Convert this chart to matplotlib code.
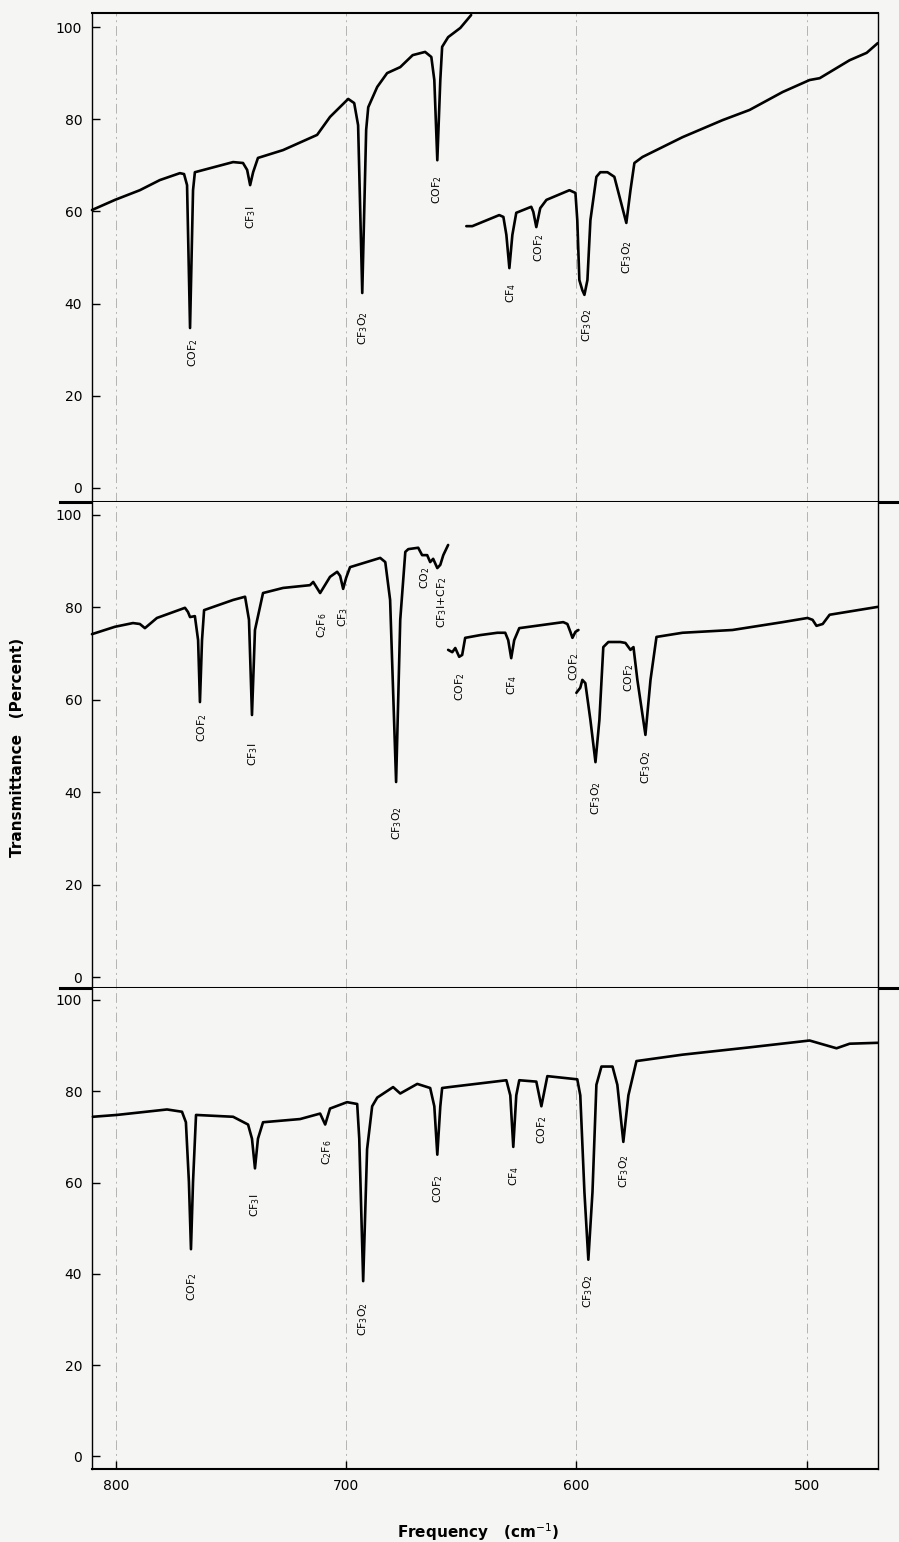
import numpy as np
import matplotlib
matplotlib.use("Agg")
import matplotlib.pyplot as plt

# ---- top spectrum (two pen traces) ----
top_freq_a = [810.4, 800.4, 789.6, 780.9, 772.2, 770.4, 769.1, 767.8, 766.5, 765.7,
              749.1, 744.8, 743.0, 741.7, 740.4, 738.3, 727.4, 712.6, 707.0, 699.1,
              696.5, 694.8, 693.0, 691.3, 690.4, 686.5, 682.2, 676.5, 671.1, 665.7,
              663.0, 661.7, 660.4, 659.1, 658.3, 655.7, 650.4, 645.7]
top_trans_a = [60.3, 62.5, 64.6, 66.8, 68.3, 68.1, 65.7, 34.7, 64.6, 68.5,
               70.7, 70.5, 69.0, 65.7, 68.5, 71.6, 73.3, 76.6, 80.5, 84.4,
               83.5, 78.7, 42.3, 77.7, 82.6, 87.0, 90.0, 91.3, 93.9, 94.6,
               93.5, 88.5, 71.1, 88.5, 95.7, 97.8, 99.8, 102.6]
top_freq_b = [647.8, 645.2, 633.5, 631.7, 630.4, 629.1, 627.8, 626.1, 619.6, 618.7,
              617.4, 615.7, 613.0, 603.0, 600.4, 599.6, 598.7, 597.4, 596.5, 595.2,
              593.9, 591.3, 589.6, 586.5, 583.5, 580.9, 578.3, 576.5, 574.8, 571.3,
              553.9, 536.5, 524.8, 510.4, 498.7, 494.3, 481.3, 473.9, 469.1]
top_trans_b = [56.8, 56.8, 59.2, 58.8, 54.9, 47.7, 54.9, 59.7, 61.0, 59.9,
               56.6, 60.7, 62.5, 64.6, 64.0, 58.1, 45.1, 42.9, 41.9, 45.1,
               58.1, 67.5, 68.5, 68.5, 67.5, 62.5, 57.5, 64.6, 70.5, 71.8,
               76.1, 79.8, 82.0, 85.9, 88.5, 88.9, 92.8, 94.4, 96.5]

# ---- middle spectrum (three pen traces) ----
mid_freq_a = [810.4, 800.4, 792.6, 789.6, 787.4, 782.2, 770.0, 768.7, 767.8, 765.7,
              764.3, 763.5, 762.6, 761.7, 749.1, 743.9, 742.2, 740.9, 739.6, 736.1,
              727.4, 715.7, 714.3, 711.3, 707.0, 703.9, 702.6, 701.3, 700.0, 698.3,
              685.2, 683.0, 680.9, 678.3, 676.5, 674.3, 673.0, 668.7, 667.0, 664.8,
              663.5, 662.2, 660.4, 659.1, 657.8, 655.7]
mid_trans_a = [74.2, 75.8, 76.6, 76.4, 75.5, 77.7, 79.9, 79.0, 77.9, 78.1,
               72.9, 59.5, 72.9, 79.4, 81.6, 82.3, 77.3, 56.7, 75.1, 83.1,
               84.2, 84.8, 85.5, 83.1, 86.6, 87.7, 86.8, 84.0, 86.4, 88.7,
               90.7, 89.8, 81.6, 42.2, 77.3, 92.0, 92.6, 92.9, 91.3, 91.3,
               89.8, 90.5, 88.5, 89.2, 91.3, 93.5]
mid_freq_b = [655.7, 653.9, 652.6, 650.9, 649.6, 648.3, 641.7, 634.3, 630.9, 629.6,
              628.3, 627.0, 624.8, 605.7, 603.9, 602.6, 601.7, 600.4, 599.1]
mid_trans_b = [70.8, 70.3, 71.2, 69.3, 69.7, 73.4, 74.0, 74.5, 74.5, 72.9,
               69.0, 72.9, 75.5, 76.8, 76.4, 74.7, 73.4, 74.7, 75.1]
mid_freq_c = [600.0, 598.3, 597.4, 596.1, 593.9, 591.7, 590.0, 588.3, 586.1, 580.9,
              578.7, 576.5, 575.2, 573.5, 570.0, 567.8, 565.2, 553.9, 532.2, 510.4,
              499.6, 497.4, 495.7, 493.0, 490.0, 469.1]
mid_trans_c = [61.5, 62.6, 64.3, 63.6, 55.6, 46.5, 55.6, 71.4, 72.5, 72.5,
               72.3, 70.8, 71.4, 64.3, 52.4, 64.3, 73.6, 74.5, 75.1, 76.8,
               77.7, 77.3, 76.0, 76.4, 78.4, 80.1]

# ---- bottom spectrum ----
bot_freq = [810.0, 799.6, 777.8, 771.3, 769.6, 768.3, 767.4, 766.5, 765.2, 749.1,
            742.6, 740.9, 739.6, 738.3, 736.1, 720.0, 711.3, 709.1, 707.0, 699.6,
            695.2, 694.3, 692.6, 690.9, 688.7, 686.5, 679.6, 676.5, 669.1, 663.5,
            661.7, 660.4, 659.1, 658.3, 655.2, 630.4, 628.7, 627.4, 626.1, 624.8,
            617.4, 615.2, 612.6, 599.6, 598.3, 596.5, 594.8, 593.0, 591.3, 589.1,
            584.3, 582.2, 579.6, 577.4, 573.9, 553.9, 524.8, 498.7, 493.9, 487.0,
            481.3, 469.1]
bot_trans = [74.4, 74.8, 76.0, 75.5, 73.2, 60.2, 45.4, 60.2, 74.8, 74.4,
             72.7, 69.6, 63.1, 69.6, 73.2, 73.9, 75.1, 72.7, 76.2, 77.6,
             77.2, 69.6, 38.4, 67.3, 76.7, 78.6, 80.9, 79.5, 81.6, 80.7,
             76.7, 66.1, 76.7, 80.7, 80.9, 82.4, 79.1, 67.8, 79.1, 82.4,
             82.1, 76.7, 83.3, 82.6, 79.1, 57.9, 43.1, 57.9, 81.4, 85.4,
             85.4, 81.4, 68.9, 79.1, 86.6, 88.0, 89.6, 91.1, 90.4, 89.4,
             90.4, 90.6]

# ---- band assignments (text, frequency, transmittance of label centre) ----
top_labels = [("COF$_2$", 766.5, 29.3), ("CF$_3$I", 741.3, 58.6), ("CF$_3$O$_2$", 692.6, 34.7),
              ("COF$_2$", 660.4, 64.6), ("CF$_4$", 628.3, 42.3), ("COF$_2$", 616.1, 52.1),
              ("CF$_3$O$_2$", 595.2, 35.4), ("CF$_3$O$_2$", 577.8, 50.1)]
mid_labels = [("COF$_2$", 762.6, 53.9), ("CF$_3$I", 740.4, 48.1), ("C$_2$F$_6$", 710.4, 76.2),
              ("CF$_3$", 701.3, 77.9), ("CF$_3$O$_2$", 677.8, 33.3), ("CO$_2$", 665.7, 86.4),
              ("CF$_3$I+CF$_2$", 658.3, 81.0), ("COF$_2$", 650.4, 62.8), ("CF$_4$", 627.8, 63.2),
              ("COF$_2$", 600.9, 67.1), ("CF$_3$O$_2$", 591.3, 38.7), ("COF$_2$", 577.0, 64.7),
              ("CF$_3$O$_2$", 569.6, 45.5)]
bot_labels = [("COF$_2$", 767.0, 37.2), ("CF$_3$I", 739.6, 55.1), ("C$_2$F$_6$", 708.3, 66.6),
              ("CF$_3$O$_2$", 692.6, 30.1), ("COF$_2$", 660.0, 58.6), ("CF$_4$", 627.0, 61.4),
              ("COF$_2$", 614.8, 71.5), ("CF$_3$O$_2$", 594.8, 36.2), ("CF$_3$O$_2$", 579.1, 62.6)]

y_ticks = [0, 20, 40, 60, 80, 100]
x_ticks = [800, 700, 600, 500]

bg = "#f5f5f3"
fig = plt.figure(figsize=(8.99, 15.42), dpi=100, facecolor=bg)

panels = [
    ([(top_freq_a, top_trans_a), (top_freq_b, top_trans_b)], top_labels,
     [0.1023, 0.67445, 0.8743, 0.31712], (-3.04, 103.04)),
    ([(mid_freq_a, mid_trans_a), (mid_freq_b, mid_trans_b), (mid_freq_c, mid_trans_c)], mid_labels,
     [0.1023, 0.35927, 0.8743, 0.31518], (-2.38, 102.8)),
    ([(bot_freq, bot_trans)], bot_labels,
     [0.1023, 0.04734, 0.8743, 0.31193], (-2.74, 102.6)),
]

for i, (segs, labels, box, ylim) in enumerate(panels):
    ax = fig.add_axes(box)
    ax.set_facecolor(bg)
    ax.set_xlim(810.4, 469.0)
    ax.set_ylim(*ylim)

    for xv in x_ticks:
        ax.axvline(xv, color="0.7", lw=0.7, ls=(0, (10, 4, 2, 4)), zorder=1)

    for f, t in segs:
        ax.plot(f, t, color="black", lw=1.9, solid_joinstyle="round",
                solid_capstyle="round", zorder=3, clip_on=False)

    for txt, f, t in labels:
        ax.text(f, t, txt, rotation=90, ha="center", va="center",
                fontsize=7.8, color="black", zorder=4)

    ax.set_yticks(y_ticks)
    ax.tick_params(axis="y", direction="in", length=6, width=1, pad=7, labelsize=10)
    ax.set_xticks(x_ticks)
    if i == 2:
        ax.tick_params(axis="x", direction="in", length=6, width=1, pad=7, labelsize=10)
    else:
        ax.tick_params(axis="x", length=0, labelbottom=False)

    for s in ["left", "right"]:
        ax.spines[s].set_linewidth(1.0)
    ax.spines["top"].set_visible(i == 0)
    ax.spines["top"].set_linewidth(1.5)
    ax.spines["bottom"].set_visible(i == 2)
    ax.spines["bottom"].set_linewidth(1.5)
    if i < 2:
        ax.axhline(ylim[0], xmin=-0.041, xmax=1.03, color="black", lw=2.2,
                   clip_on=False, zorder=5)

fig.text(0.02, 0.5156, "Transmittance   (Percent)", rotation=90, ha="center",
         va="center", fontsize=11, fontweight="bold")
fig.text(0.532, 0.0065, "Frequency   (cm$^{-1}$)", ha="center", va="center",
         fontsize=11, fontweight="bold")

fig.savefig("out.png", dpi=100, facecolor=bg)
